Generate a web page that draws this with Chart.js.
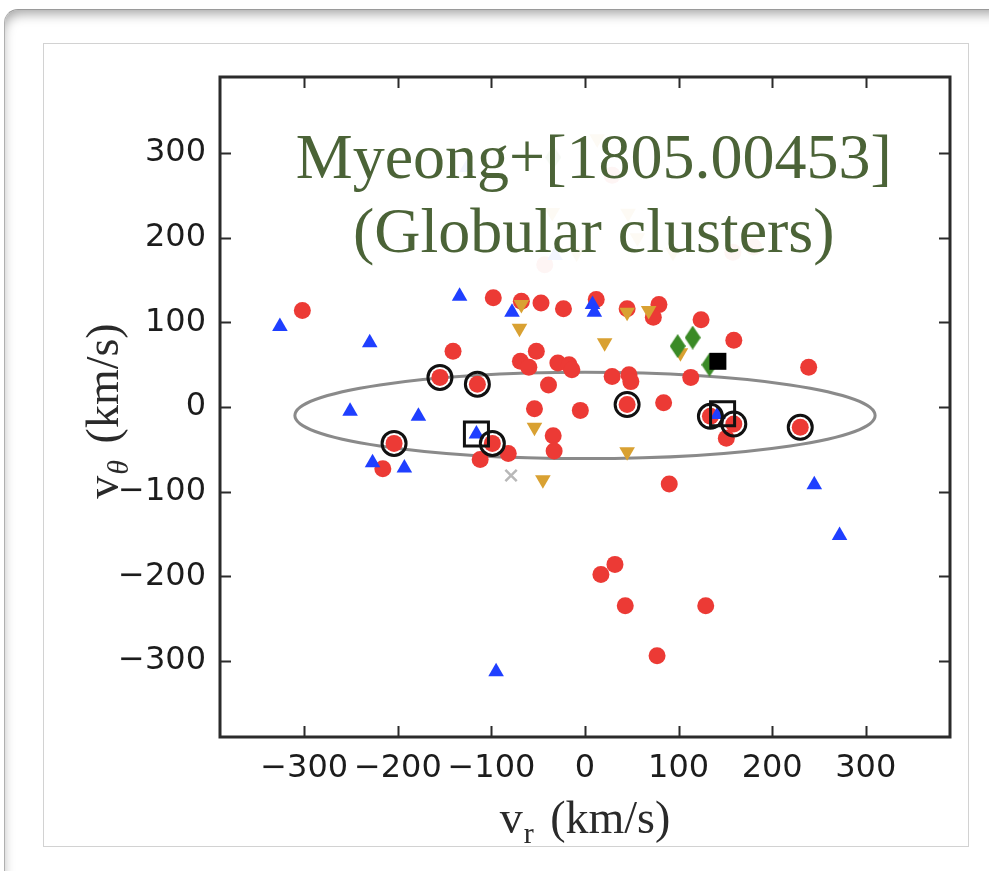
<!DOCTYPE html>
<html>
<head>
<meta charset="utf-8">
<script src="https://cdn.jsdelivr.net/npm/chart.js@4.4.1/dist/chart.umd.min.js"></script>
<style>
  html, body { margin: 0; padding: 0; background: #fff; overflow: hidden; }
  body { width: 989px; height: 871px; position: relative; }
  .frame {
    position: absolute; left: 4px; top: 9px; width: 1020px; height: 900px;
    border-top: 1px solid #9a9a9a; border-left: 1px solid #b0b0b0;
    border-radius: 14px 0 0 0;
    box-shadow: inset 3px 9px 12px -5px rgba(0, 0, 0, 0.35);
  }
  .panel {
    position: absolute; left: 43px; top: 43px; width: 924px; height: 802px;
    border: 1px solid #d2d2d2;
  }
  #chart { position: absolute; left: 0; top: 0; }
</style>
</head>
<body>
<div class="frame"></div>
<div class="panel"></div>
<canvas id="chart" width="989" height="871"></canvas>
<script>
// axis ticks (km/s)
const X_TICKS = [-300, -200, -100, 0, 100, 200, 300];
const Y_TICKS = [-300, -200, -100, 0, 100, 200, 300];
const AXIS_LIMIT = 390;

// globular clusters, v_r and v_theta in km/s (last few sit behind the label box)
const RED_VR = [-302, -141, -98, -155, -115, -99, -204, -112, -216, -68, -47, -23, 12, 45, 79, 73, 124, 159,
  -52, -69, -60, -29, -17, -14, 29, 47, 49, 113, -39, 45, 84, -54, -5, 134, 159, 151, -82, -34, -33, 90,
  239, 230, 17, 32, 43, 129, 77,
  29, -43, 158, 180];
const RED_VT = [114, 66, 129, 35, 27, -43, -43, -62, -73, 125, 123, 116, 127, 116, 121, 106, 103, 79,
  66, 54, 47, 52, 50, 44, 36, 38, 30, 35, 26, 3, 5, -2, -4, -11, -20, -37, -55, -34, -52, -91,
  47, -24, -198, -186, -235, -235, -294,
  274, 168, 183, 189];

const BLUE_VR = [-326, -230, -134, -78, 8, 10, -251, -178, -116, -227, -193, 142, 245, 272, -95,
  -32, -126];
const BLUE_VT = [95, 76, 131, 112, 121, 112, -5, -11, -32, -66, -72, -9, -92, -152, -313,
  179, 283];

const ORANGE_VR = [-68, -70, 45, 68, 21, 102, -54, 45, -45,
  13, -35, 46, 94, -9, 56];
const ORANGE_VT = [121, 93, 112, 114, 76, 64, -24, -53, -86,
  317, 230, 229, 183, 182, 200];

const GREEN_VR = [99, 115, 133, -34];
const GREEN_VT = [72, 82, 50, 295];

const BLACK_SQ_VR = [142];
const BLACK_SQ_VT = [54];

const GRAY_X_VR = [-79];
const GRAY_X_VT = [-81];

// highlighted members
const RING_VR = [-155, -115, -204, -99, 45, 134, 159, 230];
const RING_VT = [35, 27, -43, -43, 3, -11, -20, -24];
const OPEN_SQ_VR = [-116, 147];
const OPEN_SQ_VT = [-32, -8];

// ellipse: centre and semi-axes (km/s)
const ELLIPSE_CENTER = [0, -10];
const ELLIPSE_RADII = [310, 51];

const LABEL_LINES = ["Myeong+[1805.00453]", "(Globular clusters)"];

function toPoints(xs, ys) {
  return xs.map(function (x, i) {
    return { x: x, y: ys[i] };
  });
}

function formatTick(value) {
  return value < 0 ? "\u2212" + Math.abs(value) : String(value);
}

function makeThinDiamond(color, w, h) {
  const c = document.createElement("canvas");
  c.width = w;
  c.height = h;
  const g = c.getContext("2d");
  g.fillStyle = color;
  g.beginPath();
  g.moveTo(w / 2, 0);
  g.lineTo(w, h / 2);
  g.lineTo(w / 2, h);
  g.lineTo(0, h / 2);
  g.closePath();
  g.fill();
  return c;
}

const framePlugin = {
  id: "frame",
  beforeDatasetsDraw(chart) {
    const { ctx, scales: { x, y } } = chart;
    const cx = x.getPixelForValue(ELLIPSE_CENTER[0]);
    const cy = y.getPixelForValue(ELLIPSE_CENTER[1]);
    const rx = x.getPixelForValue(ELLIPSE_CENTER[0] + ELLIPSE_RADII[0]) - cx;
    const ry = cy - y.getPixelForValue(ELLIPSE_CENTER[1] + ELLIPSE_RADII[1]);
    ctx.save();
    ctx.strokeStyle = "#8a8a8a";
    ctx.lineWidth = 3;
    ctx.beginPath();
    ctx.ellipse(cx, cy, rx, ry, 0, 0, Math.PI * 2);
    ctx.stroke();
    ctx.restore();
  },
  afterDatasetsDraw(chart) {
    const { ctx, chartArea: a } = chart;
    const cx = a.left + 0.512 * (a.right - a.left);
    ctx.save();
    ctx.font = "64px 'Liberation Serif'";
    const w = Math.max.apply(null, LABEL_LINES.map(function (t) { return ctx.measureText(t).width; }));
    ctx.fillStyle = "rgba(255, 255, 255, 0.95)";
    ctx.fillRect(cx - w / 2 - 10, a.top + 36, w + 20, 162);
    ctx.fillStyle = "#4b6337";
    ctx.textAlign = "center";
    ctx.textBaseline = "alphabetic";
    ctx.fillText(LABEL_LINES[0], cx, a.top + 101);
    ctx.fillText(LABEL_LINES[1], cx, a.top + 175);
    ctx.restore();
  },
  afterDraw(chart) {
    const { ctx, chartArea: a, scales: { x, y } } = chart;
    ctx.save();
    ctx.strokeStyle = "#2b2b2b";
    ctx.lineWidth = 2;
    ctx.beginPath();
    X_TICKS.forEach(function (v) {
      const px = Math.round(x.getPixelForValue(v)) + 0.5;
      ctx.moveTo(px, a.bottom); ctx.lineTo(px, a.bottom - 11);
      ctx.moveTo(px, a.top); ctx.lineTo(px, a.top + 11);
    });
    Y_TICKS.forEach(function (v) {
      const py = Math.round(y.getPixelForValue(v)) + 0.5;
      ctx.moveTo(a.left, py); ctx.lineTo(a.left + 11, py);
      ctx.moveTo(a.right, py); ctx.lineTo(a.right - 11, py);
    });
    ctx.stroke();
    ctx.lineWidth = 3;
    ctx.strokeRect(a.left, a.top, a.right - a.left, a.bottom - a.top);

    // axis titles with subscripts
    drawSubTitle(ctx, "v", "r", false, " (km/s)", (a.left + a.right) / 2, a.bottom + 96, 0);
    drawSubTitle(ctx, "v", "\u03b8", true, " (km/s)", a.left - 102, (a.top + a.bottom) / 2 + 4, -Math.PI / 2);
    ctx.restore();
  }
};

function drawSubTitle(ctx, main, sub, subItalic, rest, cx, cy, angle) {
  const big = "46px 'Liberation Serif'";
  const small = (subItalic ? "italic " : "") + "30px 'Liberation Serif'";
  ctx.save();
  ctx.translate(cx, cy);
  ctx.rotate(angle);
  ctx.fillStyle = "#2a2a2a";
  ctx.textAlign = "left";
  ctx.textBaseline = "alphabetic";
  ctx.font = big;
  const w1 = ctx.measureText(main).width;
  const w3 = ctx.measureText(rest).width;
  ctx.font = small;
  const w2 = ctx.measureText(sub).width + 6;
  const x0 = -(w1 + w2 + w3) / 2;
  ctx.font = big;
  ctx.fillText(main, x0, 0);
  ctx.font = small;
  ctx.fillText(sub, x0 + w1 + 1, 10);
  ctx.font = big;
  ctx.fillText(rest, x0 + w1 + w2, 0);
  ctx.restore();
}

const tickFont = { family: "'DejaVu Sans'", size: 32 };

new Chart(document.getElementById("chart"), {
  type: "scatter",
  data: {
    datasets: [
      {
        label: "open squares",
        data: toPoints(OPEN_SQ_VR, OPEN_SQ_VT),
        pointStyle: "rect",
        pointRadius: 17,
        backgroundColor: "rgba(0,0,0,0)",
        borderColor: "#111111",
        borderWidth: 3,
        order: 0
      },
      {
        label: "rings",
        data: toPoints(RING_VR, RING_VT),
        pointStyle: "circle",
        pointRadius: 12,
        backgroundColor: "rgba(0,0,0,0)",
        borderColor: "#111111",
        borderWidth: 3,
        order: 1
      },
      {
        label: "black square",
        data: toPoints(BLACK_SQ_VR, BLACK_SQ_VT),
        pointStyle: "rect",
        pointRadius: 12,
        backgroundColor: "#000000",
        borderWidth: 0,
        order: 2
      },
      {
        label: "green",
        data: toPoints(GREEN_VR, GREEN_VT),
        pointStyle: makeThinDiamond("#3a8a26", 16, 24),
        pointRadius: 12,
        backgroundColor: "#3a8a26",
        borderWidth: 0,
        order: 3
      },
      {
        label: "gray x",
        data: toPoints(GRAY_X_VR, GRAY_X_VT),
        pointStyle: "crossRot",
        pointRadius: 8,
        borderColor: "#b8b8b8",
        borderWidth: 2.5,
        order: 4
      },
      {
        label: "orange",
        data: toPoints(ORANGE_VR, ORANGE_VT),
        pointStyle: "triangle",
        rotation: 180,
        pointRadius: 9,
        backgroundColor: "#d9a132",
        borderWidth: 0,
        order: 5
      },
      {
        label: "blue",
        data: toPoints(BLUE_VR, BLUE_VT),
        pointStyle: "triangle",
        pointRadius: 9,
        backgroundColor: "#1f3fff",
        borderWidth: 0,
        order: 6
      },
      {
        label: "red",
        data: toPoints(RED_VR, RED_VT),
        pointStyle: "circle",
        pointRadius: 8.5,
        backgroundColor: "#ec3a35",
        borderWidth: 0,
        order: 7
      }
    ]
  },
  options: {
    responsive: false,
    devicePixelRatio: 1,
    animation: false,
    events: [],
    layout: { padding: { top: 77, right: 39, left: 0, bottom: 0 } },
    plugins: {
      legend: { display: false },
      tooltip: { enabled: false }
    },
    scales: {
      x: {
        type: "linear",
        min: -AXIS_LIMIT,
        max: AXIS_LIMIT,
        afterBuildTicks: function (scale) {
          scale.ticks = X_TICKS.map(function (v) { return { value: v }; });
        },
        afterFit: function (scale) { scale.height = 134; },
        grid: { display: false, drawTicks: false },
        border: { display: false },
        ticks: {
          font: tickFont,
          color: "#1c1c1c",
          padding: 12,
          maxRotation: 0,
          autoSkip: false,
          callback: formatTick
        }
      },
      y: {
        type: "linear",
        min: -AXIS_LIMIT,
        max: AXIS_LIMIT,
        afterBuildTicks: function (scale) {
          scale.ticks = Y_TICKS.map(function (v) { return { value: v }; });
        },
        afterFit: function (scale) { scale.width = 220; },
        grid: { display: false, drawTicks: false },
        border: { display: false },
        ticks: {
          font: tickFont,
          color: "#1c1c1c",
          padding: 14,
          autoSkip: false,
          callback: formatTick
        }
      }
    }
  },
  plugins: [framePlugin]
});
</script>
</body>
</html>
